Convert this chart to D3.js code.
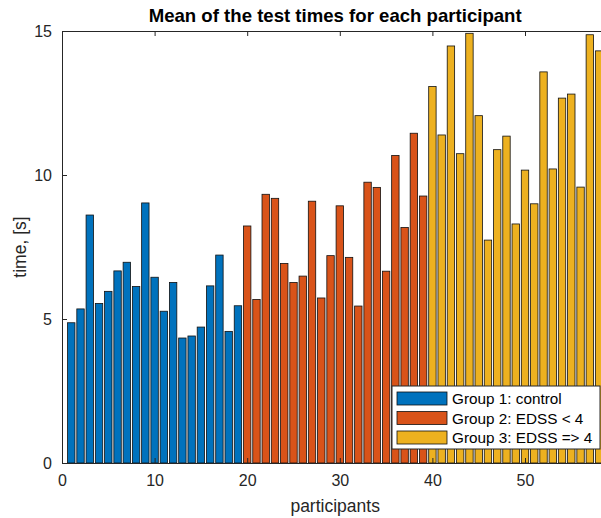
<!DOCTYPE html>
<html>
<head>
<meta charset="utf-8">
<script src="https://cdn.jsdelivr.net/npm/d3@7"></script>
<style>
  html, body { margin: 0; padding: 0; background: #fff; }
  svg { display: block; font-family: "Liberation Sans", Arial, sans-serif; }
</style>
</head>
<body>
<svg id="chart" width="601" height="518"></svg>
<script>
// Mean test time (s) per participant, split into three groups
const group1 = [4.87, 5.35, 8.61, 5.54, 5.96, 6.67, 6.97, 6.13, 9.03, 6.45,
                5.27, 6.27, 4.34, 4.41, 4.72, 6.15, 7.22, 4.57, 5.46];
const group2 = [8.23, 5.68, 9.33, 9.19, 6.93, 6.27, 6.49, 9.09, 5.73, 7.20,
                8.93, 7.14, 5.45, 9.75, 9.57, 6.66, 10.68, 8.18, 11.45, 9.27];
const group3 = [13.07, 11.39, 14.48, 10.74, 14.92, 12.06, 7.74, 10.88, 11.35, 8.30,
                10.17, 9.00, 13.58, 10.21, 12.67, 12.81, 9.58, 14.87, 14.31];
const groupNames = ["Group 1: control", "Group 2: EDSS < 4", "Group 3: EDSS => 4"];
const groupColors = ["#0072BD", "#D95319", "#EDB120"];
const xTicks = [0, 10, 20, 30, 40, 50];
const yTicks = [0, 5, 10, 15];

const groups = [group1, group2, group3];
const bars = [];
let idx = 1;
groups.forEach((g, gi) => g.forEach(v => bars.push({ x: idx++, v, g: gi })));

const svg = d3.select("#chart");
const plotLeft = 62, plotTop = 31, plotBottom = 463;
const x = d3.scaleLinear().domain([0, 59]).range([plotLeft, plotLeft + 59 * 9.26]);
const y = d3.scaleLinear().domain([0, 15]).range([plotBottom, plotTop]);
const plotRight = x(59);
const barW = (x(1) - x(0)) * 0.8;
const axisColor = "#262626";

// plot background
svg.append("rect").attr("x", plotLeft).attr("y", plotTop)
  .attr("width", plotRight - plotLeft).attr("height", plotBottom - plotTop).attr("fill", "#fff");

// bars
svg.append("g").selectAll("rect").data(bars).join("rect")
  .attr("x", d => x(d.x) - barW / 2)
  .attr("y", d => y(d.v))
  .attr("width", barW)
  .attr("height", d => y(0) - y(d.v))
  .attr("fill", d => groupColors[d.g])
  .attr("stroke", "#111")
  .attr("stroke-width", 0.8);

// axes (ticks point inward, box on)
const fmt = d3.format("d");
const xAxis = svg.append("g").attr("transform", `translate(0,${plotBottom})`)
  .call(d3.axisBottom(x).tickValues(xTicks).tickFormat(fmt).tickSizeInner(-5).tickSizeOuter(0).tickPadding(12));
const xTop = svg.append("g").attr("transform", `translate(0,${plotTop})`)
  .call(d3.axisTop(x).tickValues(xTicks).tickFormat("").tickSizeInner(-5).tickSizeOuter(0));
const yAxis = svg.append("g").attr("transform", `translate(${plotLeft},0)`)
  .call(d3.axisLeft(y).tickValues(yTicks).tickFormat(fmt).tickSizeInner(-5).tickSizeOuter(0).tickPadding(10));
const yRight = svg.append("g").attr("transform", `translate(${plotRight},0)`)
  .call(d3.axisRight(y).tickValues(yTicks).tickFormat("").tickSizeInner(-5).tickSizeOuter(0));

[xAxis, xTop, yAxis, yRight].forEach(a => {
  a.select(".domain").attr("stroke", axisColor).attr("stroke-width", 1);
  a.selectAll(".tick line").attr("stroke", axisColor).attr("stroke-width", 1);
  a.selectAll(".tick text").attr("fill", axisColor)
    .style("font-family", "'Liberation Sans', Arial, sans-serif").style("font-size", "16px");
});

// titles
svg.append("text").attr("x", (plotLeft + plotRight) / 2).attr("y", 22)
  .attr("text-anchor", "middle").attr("font-weight", "bold").attr("font-size", 18.6)
  .attr("fill", "#000").text("Mean of the test times for each participant");
svg.append("text").attr("x", (plotLeft + plotRight) / 2).attr("y", 512)
  .attr("text-anchor", "middle").attr("font-size", 17.5).attr("fill", axisColor)
  .text("participants");
svg.append("text").attr("transform", `translate(26,${(plotTop + plotBottom) / 2}) rotate(-90)`)
  .attr("text-anchor", "middle").attr("font-size", 17.5).attr("fill", axisColor)
  .text("time, [s]");

// legend
const lg = svg.append("g").attr("transform", "translate(392,386)");
lg.append("rect").attr("width", 208).attr("height", 63)
  .attr("fill", "#fff").attr("stroke", axisColor).attr("stroke-width", 1);
groupNames.forEach((name, i) => {
  const row = lg.append("g").attr("transform", `translate(0,${6 + i * 19.5})`);
  row.append("rect").attr("x", 5).attr("y", 0).attr("width", 50).attr("height", 13)
    .attr("fill", groupColors[i]).attr("stroke", "#111").attr("stroke-width", 0.8);
  row.append("text").attr("x", 60).attr("y", 12).attr("font-size", 15.3)
    .attr("fill", "#000").text(name);
});
</script>
</body>
</html>
